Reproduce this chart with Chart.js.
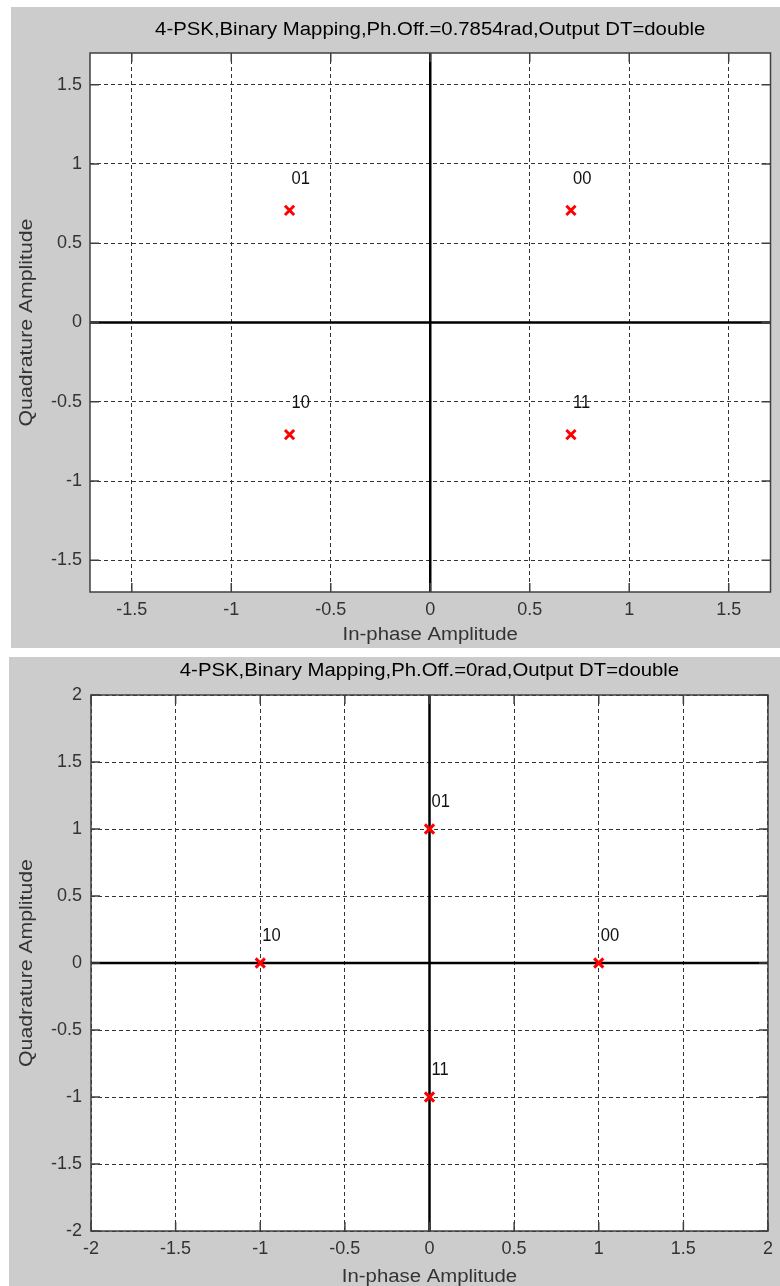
<!DOCTYPE html>
<html>
<head>
<meta charset="utf-8">
<script src="https://cdn.jsdelivr.net/npm/chart.js@4.4.1/dist/chart.umd.min.js"></script>
<style>
  body { margin: 0; background: #fff; width: 780px; height: 1286px; position: relative; overflow: hidden; }
  canvas { position: absolute; background: #cccccc; }
  #c1 { left: 11px; top: 7px; }
  #c2 { left: 9px; top: 657px; }
</style>
</head>
<body>
<canvas id="c1" width="769" height="641"></canvas>
<canvas id="c2" width="771" height="629"></canvas>
<script>
// symbol labels (binary mapping)
const symbols = ["00", "01", "10", "11"];

// constellation with phase offset pi/4
const inPhase1 = [0.7071, -0.7071, -0.7071, 0.7071];
const quad1 = [0.7071, 0.7071, -0.7071, -0.7071];

// constellation with zero phase offset
const inPhase2 = [1, 0, -1, 0];
const quad2 = [0, 1, 0, -1];

const ticks1 = [-1.5, -1, -0.5, 0, 0.5, 1, 1.5];
const ticks2 = [-2, -1.5, -1, -0.5, 0, 0.5, 1, 1.5, 2];

const FONT = "'Liberation Sans', Arial, sans-serif";
const textColor = "#333";

function fixTicks(vals) {
  return function (scale) {
    scale.ticks = vals.map((v) => ({ value: v }));
  };
}

// text stretched along its baseline (the original font is wider than Arial)
function wideText(ctx, text, x, y, size, sx, color, rot) {
  ctx.save();
  ctx.translate(x, y);
  if (rot) ctx.rotate(rot);
  ctx.scale(sx, 1);
  ctx.font = size + "px " + FONT;
  ctx.fillStyle = color;
  ctx.textAlign = "center";
  ctx.textBaseline = "middle";
  ctx.fillText(text, 0, 0);
  ctx.restore();
}

// axes, frame, inward ticks, point labels and titles
const matlabLook = {
  id: "matlabLook",
  beforeDraw(chart) {
    const { ctx, chartArea: a } = chart;
    ctx.save();
    ctx.fillStyle = "#fff";
    ctx.fillRect(a.left, a.top, a.right - a.left, a.bottom - a.top);
    ctx.restore();
  },
  beforeDatasetsDraw(chart) {
    const { ctx, chartArea: a, scales } = chart;
    const x = scales.x, y = scales.y;
    ctx.save();
    // zero axes
    ctx.strokeStyle = "#000";
    ctx.lineWidth = 2.5;
    ctx.beginPath();
    const x0 = x.getPixelForValue(0), y0 = y.getPixelForValue(0);
    ctx.moveTo(x0, a.top); ctx.lineTo(x0, a.bottom);
    ctx.moveTo(a.left, y0); ctx.lineTo(a.right, y0);
    ctx.stroke();
    // inward ticks
    ctx.strokeStyle = "#404040";
    ctx.lineWidth = 1.5;
    ctx.beginPath();
    x.ticks.forEach((t) => {
      const px = x.getPixelForValue(t.value);
      ctx.moveTo(px, a.bottom); ctx.lineTo(px, a.bottom - 9);
      ctx.moveTo(px, a.top); ctx.lineTo(px, a.top + 9);
    });
    y.ticks.forEach((t) => {
      const py = y.getPixelForValue(t.value);
      ctx.moveTo(a.left, py); ctx.lineTo(a.left + 9, py);
      ctx.moveTo(a.right, py); ctx.lineTo(a.right - 9, py);
    });
    ctx.stroke();
    // frame
    ctx.strokeRect(a.left, a.top, a.right - a.left, a.bottom - a.top);
    ctx.restore();
  },
  afterDatasetsDraw(chart) {
    const { ctx, scales } = chart;
    const pts = chart.data.datasets[0].data;
    ctx.save();
    ctx.font = "18px " + FONT;
    ctx.fillStyle = "#111";
    ctx.textAlign = "left";
    ctx.textBaseline = "middle";
    pts.forEach((p, i) => {
      const px = scales.x.getPixelForValue(p.x) + 2;
      const py = scales.y.getPixelForValue(p.y + 0.2);
      ctx.save();
      ctx.translate(px, py);
      ctx.scale(0.92, 1);
      ctx.fillText(symbols[i], 0, 0);
      ctx.restore();
    });
    ctx.restore();
  },
  afterDraw(chart) {
    const { ctx, chartArea: a } = chart;
    const o = chart.options.plugins.matlabLook;
    const cx = (a.left + a.right) / 2, cy = (a.top + a.bottom) / 2;
    wideText(ctx, o.title, cx, o.titleY, 18, 1.13, "#000");
    wideText(ctx, "In-phase Amplitude", cx, o.xTitleY, 18, 1.13, textColor);
    wideText(ctx, "Quadrature Amplitude", o.yTitleX, cy, 18, 1.18, textColor, -Math.PI / 2);
  },
};

function makeChart(id, xs, ys, lim, tickVals, box) {
  const data = xs.map((v, i) => ({ x: v, y: ys[i] }));
  const axisFont = { family: FONT, size: 18 };
  return new Chart(document.getElementById(id), {
    type: "scatter",
    data: {
      datasets: [
        {
          data: data,
          pointStyle: "crossRot",
          radius: 6.5,
          borderWidth: 3,
          borderColor: "#ff0000",
          backgroundColor: "#ff0000",
        },
      ],
    },
    options: {
      responsive: false,
      animation: false,
      events: [],
      devicePixelRatio: 1,
      layout: { padding: { top: box.top, right: box.right, left: 0, bottom: 0 } },
      plugins: {
        legend: { display: false },
        tooltip: { enabled: false },
        matlabLook: { title: box.title, titleY: box.titleY, xTitleY: box.xTitleY, yTitleX: box.yTitleX },
      },
      scales: {
        x: {
          type: "linear",
          min: -lim[0],
          max: lim[0],
          afterBuildTicks: fixTicks(tickVals),
          afterFit: (s) => { s.height = box.xh; },
          grid: { color: "#333", lineWidth: 1, drawTicks: false },
          border: { display: false, dash: [4, 3] },
          ticks: { padding: 7, font: axisFont, color: textColor, maxRotation: 0, autoSkip: false, callback: (v) => String(v) },
        },
        y: {
          type: "linear",
          min: -lim[1],
          max: lim[1],
          afterBuildTicks: fixTicks(tickVals),
          afterFit: (s) => { s.width = box.yw; },
          grid: { color: "#333", lineWidth: 1, drawTicks: false },
          border: { display: false, dash: [4, 3] },
          ticks: { padding: box.ypad, font: axisFont, color: textColor, autoSkip: false, callback: (v) => String(v) },
        },
      },
    },
    plugins: [matlabLook],
  });
}

makeChart("c1", inPhase1, quad1, [1.71, 1.7], ticks1, {
  top: 46, right: 6, xh: 56, yw: 79, ypad: 8,
  title: "4-PSK,Binary Mapping,Ph.Off.=0.7854rad,Output DT=double",
  titleY: 23, xTitleY: 628, yTitleX: 16,
});
makeChart("c2", inPhase2, quad2, [2, 2], ticks2, {
  top: 38, right: 7, xh: 55, yw: 82, ypad: 9,
  title: "4-PSK,Binary Mapping,Ph.Off.=0rad,Output DT=double",
  titleY: 14, xTitleY: 620, yTitleX: 18,
});
</script>
</body>
</html>
